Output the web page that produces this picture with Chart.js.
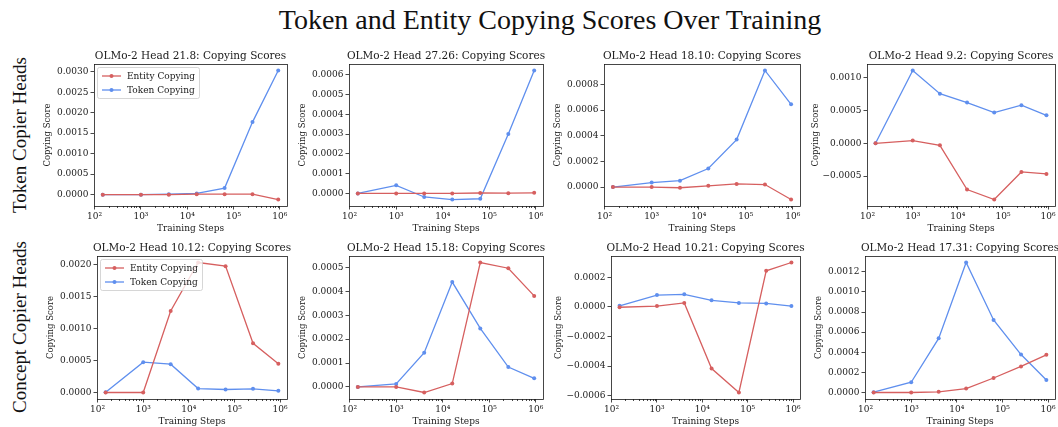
<!DOCTYPE html>
<html>
<head>
<meta charset="utf-8">
<script src="https://cdn.jsdelivr.net/npm/chart.js@4.4.0/dist/chart.umd.min.js"></script>
<style>
  html, body { margin: 0; padding: 0; background: #fff; overflow: hidden; }
  #fig { position: relative; width: 1058px; height: 427px; overflow: hidden; }
  #suptitle { position: absolute; left: 21px; top: 3px; width: 1058px; text-align: center;
              font-family: "Liberation Serif", serif; font-size: 28px; line-height: 34px; color: #111; }
  .rowlabel { position: absolute; font-family: "Liberation Serif", serif; font-size: 19px; color: #111;
              white-space: nowrap; transform: translate(-50%, -50%) rotate(-90deg); }
  canvas { position: absolute; }
</style>
</head>
<body>
<div id="fig">
  <div id="suptitle">Token and Entity Copying Scores Over Training</div>
</div>
<script>
// training steps (x) shared by every panel
const steps = [150, 1000, 4000, 16000, 64000, 256000, 920000];

const heads = ['21.8', '27.26', '18.10', '9.2', '10.12', '15.18', '10.21', '17.31'];
const rowNames = ['Token Copier Heads', 'Concept Copier Heads'];
const seriesNames = ['Entity Copying', 'Token Copying'];
const seriesColors = ['#d65f5f', '#5f8fee'];

// copying scores
const entity21_8  = [0, 0, 0, 0.00001, 0.00001, 0.00001, -0.00012];
const token21_8   = [0, 0, 0.00001, 0.00003, 0.00016, 0.00177, 0.00303];
const entity27_26 = [0, 0, 0, 0, 0.000002, 0.000001, 0.000003];
const token27_26  = [0, 0.000041, -0.000018, -0.000031, -0.000027, 0.0003, 0.000622];
const entity18_10 = [0, 0, -0.000005, 0.00001, 0.000025, 0.00002, -0.000097];
const token18_10  = [0, 0.000035, 0.00005, 0.000145, 0.00037, 0.000909, 0.000645];
const entity9_2   = [0, 0.000041, -0.000031, -0.000703, -0.000856, -0.000436, -0.000467];
const token9_2    = [0, 0.001108, 0.000754, 0.00062, 0.000467, 0.00058, 0.000426];
const entity10_12 = [0, 0, 0.001276, 0.002036, 0.001979, 0.00077, 0.00045];
const token10_12  = [0.000005, 0.000475, 0.000444, 0.000062, 0.000047, 0.000057, 0.000026];
const entity15_18 = [0, 0, -0.0000235, 0.000014, 0.000521, 0.000497, 0.000381];
const token15_18  = [0, 0.0000125, 0.000143, 0.000439, 0.000245, 0.000083, 0.000036];
const entity10_21 = [-0.000003, 0.000005, 0.000026, -0.000416, -0.000578, 0.000243, 0.000299];
const token10_21  = [0.000007, 0.0000795, 0.000084, 0.000044, 0.000026, 0.000023, 0.000005];
const entity17_31 = [0, 0, 0.0000066, 0.000039, 0.000144, 0.000259, 0.000374];
const token17_31  = [0.000003, 0.000102, 0.000538, 0.001292, 0.000721, 0.000377, 0.000125];

const entityScores = [entity21_8, entity27_26, entity18_10, entity9_2, entity10_12, entity15_18, entity10_21, entity17_31];
const tokenScores  = [token21_8, token27_26, token18_10, token9_2, token10_12, token15_18, token10_21, token17_31];

// y tick spacing per panel
const yStep = [0.0005, 0.0001, 0.0002, 0.0005, 0.0005, 0.0001, 0.0002, 0.0002];
const xMajor = [100, 1000, 10000, 100000, 1000000];
const legendPanels = [0, 4];

// plot area boxes in page pixels
const boxes = [
  {l: 94,  t: 64,  r: 287,  b: 206, yw: 51},
  {l: 349, t: 64,  r: 543,  b: 206, yw: 51},
  {l: 604, t: 64,  r: 800,  b: 206, yw: 51},
  {l: 867, t: 64,  r: 1055, b: 206, yw: 56},
  {l: 97,  t: 256, r: 287,  b: 399, yw: 51},
  {l: 349, t: 256, r: 543,  b: 399, yw: 51},
  {l: 611, t: 256, r: 800,  b: 399, yw: 57},
  {l: 865, t: 256, r: 1055, b: 399, yw: 51}
];
const TOP = 16, RIGHT = 14, XH = 28;
const FONT = 'DejaVu Serif';
const INK = '#1a1a1a';
const SUP = '⁰¹²³⁴⁵⁶⁷⁸⁹';

const fig = document.getElementById('fig');
[[20, 135], [20, 327]].forEach((p, i) => {
  const d = document.createElement('div');
  d.className = 'rowlabel';
  d.style.left = p[0] + 'px';
  d.style.top = p[1] + 'px';
  d.textContent = rowNames[i];
  fig.appendChild(d);
});

// matplotlib-like autoscale: 5% margin
function padRange(lo, hi, log) {
  if (log) {
    const a = Math.log10(lo), b = Math.log10(hi), m = (b - a) * 0.05;
    return [Math.pow(10, a - m), Math.pow(10, b + m)];
  }
  const m = (hi - lo) * 0.05;
  return [lo - m, hi + m];
}

function fmtY(v) {
  const s = Math.abs(v) < 1e-12 ? '0.0000' : v.toFixed(4);
  return s.replace('-', '\u2212');
}

const axesDecor = {
  id: 'axesDecor',
  afterDatasetsDraw(chart, args, opts) {
    const {ctx, chartArea: a} = chart;
    const x = chart.scales.x;
    ctx.save();
    ctx.strokeStyle = INK;
    ctx.lineWidth = 0.8;
    // minor log ticks
    for (let k = 1; k <= 6; k++) {
      for (let m = 2; m <= 9; m++) {
        const v = m * Math.pow(10, k);
        if (v < x.min || v > x.max) continue;
        const px = Math.round(x.getPixelForValue(v)) + 0.5;
        ctx.beginPath();
        ctx.moveTo(px, a.bottom);
        ctx.lineTo(px, a.bottom + 2);
        ctx.stroke();
      }
    }
    // spines
    ctx.strokeRect(Math.round(a.left) + 0.5, Math.round(a.top) + 0.5,
                   Math.round(a.right - a.left), Math.round(a.bottom - a.top));
    // panel title
    ctx.fillStyle = INK;
    ctx.font = '10.5px "' + FONT + '"';
    ctx.textAlign = 'center';
    ctx.textBaseline = 'alphabetic';
    ctx.fillText(opts.title, (a.left + a.right) / 2, a.top - 5);
    // legend
    if (opts.legend) {
      ctx.font = '9px "' + FONT + '"';
      const tw = Math.max(...chart.data.datasets.map(d => ctx.measureText(d.label).width));
      const lx = a.left + 3, ly = a.top + 3, w = tw + 34, h = 31;
      ctx.fillStyle = 'rgba(255,255,255,0.8)';
      ctx.strokeStyle = '#cccccc';
      ctx.beginPath();
      ctx.roundRect(lx + 0.5, ly + 0.5, w, h, 2);
      ctx.fill();
      ctx.stroke();
      chart.data.datasets.forEach((ds, i) => {
        const yy = ly + 9 + i * 14;
        ctx.strokeStyle = ds.borderColor;
        ctx.lineWidth = 1.3;
        ctx.beginPath();
        ctx.moveTo(lx + 5, yy);
        ctx.lineTo(lx + 24, yy);
        ctx.stroke();
        ctx.fillStyle = ds.borderColor;
        ctx.beginPath();
        ctx.arc(lx + 14.5, yy, 2, 0, Math.PI * 2);
        ctx.fill();
        ctx.fillStyle = INK;
        ctx.textAlign = 'left';
        ctx.textBaseline = 'middle';
        ctx.fillText(ds.label, lx + 30, yy + 0.5);
      });
    }
    ctx.restore();
  }
};

const [xMin, xMax] = padRange(steps[0], steps[steps.length - 1], true);

heads.forEach((head, p) => {
  const box = boxes[p];
  const canvas = document.createElement('canvas');
  const w = box.yw + (box.r - box.l) + RIGHT;
  const h = TOP + (box.b - box.t) + XH;
  canvas.width = w;
  canvas.height = h;
  canvas.style.left = (box.l - box.yw) + 'px';
  canvas.style.top = (box.t - TOP) + 'px';
  canvas.style.width = w + 'px';
  canvas.style.height = h + 'px';
  fig.appendChild(canvas);

  const series = [entityScores[p], tokenScores[p]];
  const all = series.flat();
  const [yMin, yMax] = padRange(Math.min(...all), Math.max(...all), false);
  const step = yStep[p];
  const yTicks = [];
  for (let k = Math.ceil(yMin / step); k <= Math.floor(yMax / step); k++) yTicks.push(k * step);

  new Chart(canvas.getContext('2d'), {
    type: 'line',
    data: {
      datasets: series.map((vals, i) => ({
        label: seriesNames[i],
        data: steps.map((s, j) => ({x: s, y: vals[j]})),
        borderColor: seriesColors[i],
        backgroundColor: seriesColors[i],
        borderWidth: 1.3,
        pointRadius: 2,
        pointBorderWidth: 0,
        pointBackgroundColor: seriesColors[i],
        tension: 0,
        fill: false
      }))
    },
    options: {
      responsive: false,
      animation: false,
      devicePixelRatio: 1,
      layout: {padding: {top: TOP, right: RIGHT, left: 0, bottom: 0}},
      plugins: {
        legend: {display: false},
        tooltip: {enabled: false},
        axesDecor: {title: 'OLMo-2 Head ' + head + ': Copying Scores', legend: legendPanels.includes(p)}
      },
      scales: {
        x: {
          type: 'logarithmic',
          min: xMin,
          max: xMax,
          afterBuildTicks: s => { s.ticks = xMajor.map(v => ({value: v})); },
          afterFit: s => { s.height = XH; },
          grid: {drawOnChartArea: false, tickLength: 3.5, tickColor: INK, tickWidth: 0.8},
          border: {display: false},
          ticks: {
            autoSkip: false, maxRotation: 0, padding: 2, color: INK,
            font: {family: FONT, size: 9},
            callback: v => '10' + SUP[Math.round(Math.log10(v))]
          },
          title: {display: true, text: 'Training Steps', color: INK, padding: 0, font: {family: FONT, size: 9}}
        },
        y: {
          type: 'linear',
          min: yMin,
          max: yMax,
          afterBuildTicks: s => { s.ticks = yTicks.map(v => ({value: v})); },
          afterFit: s => { s.width = box.yw; },
          grid: {drawOnChartArea: false, tickLength: 3.5, tickColor: INK, tickWidth: 0.8},
          border: {display: false},
          ticks: {padding: 2, color: INK, font: {family: FONT, size: 9}, callback: v => fmtY(v)},
          title: {display: true, text: 'Copying Score', color: INK, padding: 0, font: {family: FONT, size: 8.5}}
        }
      }
    },
    plugins: [axesDecor]
  });
});
</script>
</body>
</html>
